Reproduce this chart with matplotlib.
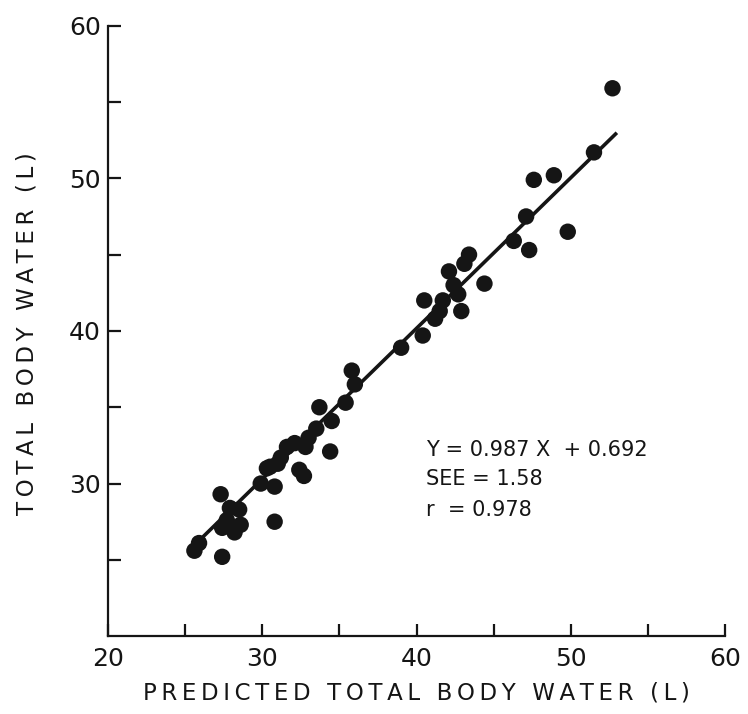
"Predicted vs measured total body water, with regression line."
import matplotlib
matplotlib.use("Agg")
import matplotlib.pyplot as plt
import numpy as np

# predicted TBW (L) and measured TBW (L)
predicted = [25.6, 25.9, 27.4, 27.3, 27.9, 28.5, 27.4, 28.2, 28.6, 27.7,
             29.9, 30.8, 30.3, 31.2, 31.6, 30.8, 32.4, 32.7, 32.1, 32.8,
             33.0, 33.5, 33.7, 34.5, 34.4, 35.4, 35.8, 36.0, 39.0, 40.4,
             40.5, 41.7, 41.5, 41.2, 42.9, 42.7, 42.4, 42.1, 43.1, 43.4,
             44.4, 46.3, 47.3, 47.1, 49.8, 47.6, 48.9, 51.5, 52.7, 31.0,
             30.5]
measured = [25.6, 26.1, 25.2, 29.3, 28.4, 28.3, 27.1, 26.8, 27.3, 27.6,
            30.0, 29.8, 31.0, 31.7, 32.4, 27.5, 30.9, 30.5, 32.65, 32.4,
            33.0, 33.6, 35.0, 34.1, 32.1, 35.3, 37.4, 36.5, 38.9, 39.7,
            42.0, 42.0, 41.3, 40.8, 41.3, 42.4, 43.0, 43.9, 44.4, 45.0,
            43.1, 45.9, 45.3, 47.5, 46.5, 49.9, 50.2, 51.7, 55.9, 31.3,
            31.1]

slope, intercept = 0.987, 0.692
fit_x = np.array([25.8, 52.9])

INK = "#151515"


def spaced(s):
    # old typeset labels are letter-spaced, fake it with thin spaces
    return "\u2009".join(s)


fig = plt.figure(figsize=(7.48, 7.14), dpi=100)
ax = fig.add_axes([0.1444, 0.109, 0.825, 0.855])

ax.scatter(predicted, measured, s=140, color=INK, edgecolors="none", zorder=3)
ax.plot(fit_x, slope * fit_x + intercept, color=INK, lw=2.6, zorder=2)

ax.set_xlim(20, 60)
ax.set_ylim(20, 60)
ax.set_xticks(range(20, 61, 5))
ax.set_xticklabels([str(v) if v % 10 == 0 else "" for v in range(20, 61, 5)])
ax.set_yticks(range(25, 61, 5))
ax.set_yticklabels([str(v) if v % 10 == 0 else "" for v in range(25, 61, 5)])

for side in ["top", "right"]:
    ax.spines[side].set_visible(False)
for side in ["left", "bottom"]:
    ax.spines[side].set_linewidth(1.6)
    ax.spines[side].set_color(INK)

ax.tick_params(direction="in", length=9, width=1.6, color=INK,
               labelsize=18, labelcolor=INK)
ax.tick_params(axis="x", pad=8)
ax.tick_params(axis="y", pad=5)

ax.set_xlabel(spaced("PREDICTED TOTAL BODY WATER (L)"), fontsize=16.5,
              color=INK, va="top")
ax.xaxis.set_label_coords(0.5, -0.075)
ax.set_ylabel(spaced("TOTAL BODY WATER (L)"), fontsize=16.5, color=INK)
ax.yaxis.set_label_coords(-0.112, 0.495)

note = dict(fontsize=15, va="center", color=INK)
ax.text(40.6, 32.2, "Y = 0.987 X  + 0.692", **note)
ax.text(40.6, 30.3, "SEE = 1.58", **note)
ax.text(40.6, 28.3, "r  = 0.978", **note)

fig.savefig("out.png", dpi=100)
